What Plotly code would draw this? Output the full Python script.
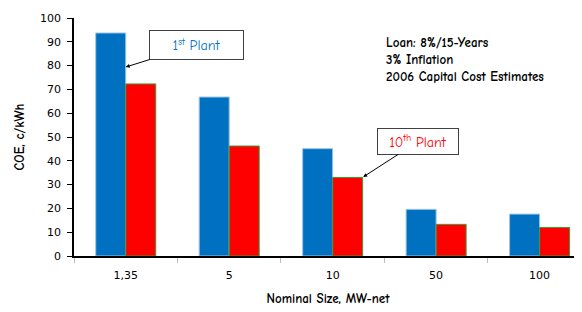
import plotly.graph_objects as go

categories = ["1,35", "5", "10", "50", "100"]
first_plant = [93.7, 66.8, 45.1, 19.6, 17.6]
tenth_plant = [72.3, 46.2, 33.0, 13.3, 12.0]
y_ticks = [0, 10, 20, 30, 40, 50, 60, 70, 80, 90, 100]
notes = ["Loan: 8%/15-Years", "3% Inflation", "2006 Capital Cost Estimates"]

comic = "Comic Sans MS, Comic Neue, Noto Sans, DejaVu Sans"
tickfont = dict(family="Verdana, DejaVu Sans", size=11, color="black")

fig = go.Figure()
fig.add_trace(go.Bar(x=categories, y=first_plant, name="1st Plant",
                     marker=dict(color="#0070C0", line=dict(color="#9DC3E6", width=1))))
fig.add_trace(go.Bar(x=categories, y=tenth_plant, name="10th Plant",
                     marker=dict(color="#FF0000", line=dict(color="#3A9A3A", width=1))))

fig.update_layout(
    width=574, height=304,
    margin=dict(l=66, r=0, t=10, b=56, autoexpand=False),
    paper_bgcolor="white", plot_bgcolor="white",
    showlegend=False,
    barmode="group", bargap=0.42, bargroupgap=0,
    xaxis=dict(type="category", range=[-0.5, 4.41], showline=True, linecolor="black",
               linewidth=1.5, ticks="outside", tickson="boundaries", tickcolor="#BBBBBB",
               ticklen=5, tickfont=tickfont, showgrid=False, automargin=False,
               ticklabelstandoff=8,
               title=dict(text="<b>Nominal Size, MW-net</b>",
                          font=dict(family=comic, size=13, color="black"), standoff=13)),
    yaxis=dict(range=[0, 100], tickvals=y_ticks, showline=True, linecolor="black",
               linewidth=1.5, ticks="outside", ticklen=5, tickcolor="black",
               tickfont=tickfont, showgrid=False, zeroline=False, automargin=False,
               ticklabelstandoff=4,
               title=dict(text="<b>COE, c/kWh</b>",
                          font=dict(family=comic, size=13, color="black"), standoff=12)),
)

# label boxes with arrows
fig.add_annotation(x=0, y=79.4, xref="x", yref="y",
                   text="1<sup>st</sup> Plant", showarrow=True,
                   arrowhead=2, arrowsize=0.8, arrowwidth=1, arrowcolor="black",
                   ax=70.5, ay=-22,
                   font=dict(family=comic, size=14, color="#0070C0"),
                   bordercolor="#404040", borderwidth=1, bgcolor="white",
                   width=91, height=26)
fig.add_annotation(x=2.295, y=33.2, xref="x", yref="y",
                   text="10<sup>th</sup> Plant", showarrow=True,
                   arrowhead=2, arrowsize=0.8, arrowwidth=1, arrowcolor="black",
                   ax=55, ay=-35.5,
                   font=dict(family=comic, size=14, color="#FF0000"),
                   bordercolor="#404040", borderwidth=1, bgcolor="white",
                   width=78, height=23)
# notes
fig.add_annotation(xref="paper", yref="paper", x=(385 - 74) / 508, y=(256 - 34) / 238,
                   xanchor="left", yanchor="top", align="left", showarrow=False,
                   borderpad=0,
                   text="<b>" + "<br>".join(notes) + "</b>",
                   font=dict(family=comic, size=13, color="black"))

fig.write_html("out.html")
